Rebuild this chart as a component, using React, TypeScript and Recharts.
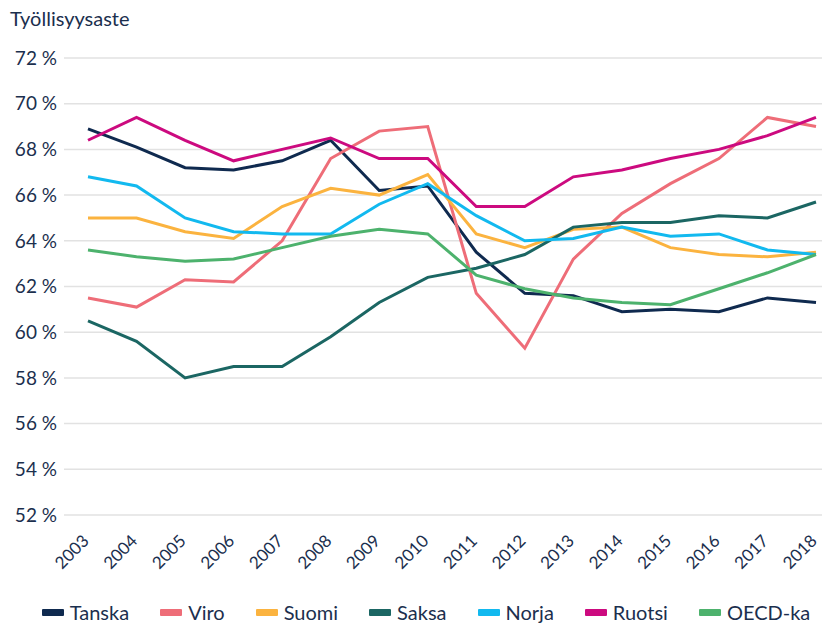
import React from "react";
import { LineChart, Line, XAxis, YAxis, CartesianGrid, Legend } from "recharts";

const years = ["2003","2004","2005","2006","2007","2008","2009","2010","2011","2012","2013","2014","2015","2016","2017","2018"];
const tanska = [68.9,68.1,67.2,67.1,67.5,68.4,66.2,66.4,63.5,61.7,61.6,60.9,61.0,60.9,61.5,61.3];
const viro = [61.5,61.1,62.3,62.2,64.0,67.6,68.8,69.0,61.7,59.3,63.2,65.2,66.5,67.6,69.4,69.0];
const suomi = [65.0,65.0,64.4,64.1,65.5,66.3,66.0,66.9,64.3,63.7,64.5,64.6,63.7,63.4,63.3,63.5];
const saksa = [60.5,59.6,58.0,58.5,58.5,59.8,61.3,62.4,62.8,63.4,64.6,64.8,64.8,65.1,65.0,65.7];
const norja = [66.8,66.4,65.0,64.4,64.3,64.3,65.6,66.5,65.1,64.0,64.1,64.6,64.2,64.3,63.6,63.4];
const ruotsi = [68.4,69.4,68.4,67.5,68.0,68.5,67.6,67.6,65.5,65.5,66.8,67.1,67.6,68.0,68.6,69.4];
const oecd = [63.6,63.3,63.1,63.2,63.7,64.2,64.5,64.3,62.5,61.9,61.5,61.3,61.2,61.9,62.6,63.4];
const yTicks = [52,54,56,58,60,62,64,66,68,70,72];
const title = "Työllisyysaste";

const series = [
  { key: "Tanska", values: tanska, color: "#0f2a4f" },
  { key: "Viro", values: viro, color: "#ee6d78" },
  { key: "Suomi", values: suomi, color: "#fbb33f" },
  { key: "Saksa", values: saksa, color: "#1b6663" },
  { key: "Norja", values: norja, color: "#12b9ef" },
  { key: "Ruotsi", values: ruotsi, color: "#cc0a7f" },
  { key: "OECD-ka", values: oecd, color: "#4db26d" },
];

const data = years.map((y, i) => {
  const row: any = { year: y };
  series.forEach((s) => { row[s.key] = s.values[i]; });
  return row;
});

const FONT = "Lato, 'Open Sans', sans-serif";
const TEXT = "#1b2f4e";

const LegendContent = () => (
  <div style={{ display: "flex", justifyContent: "center", alignItems: "center", height: 30, paddingLeft: 14, gap: 31, fontFamily: FONT, fontSize: 20, color: TEXT, transform: "translateY(2px)" }}>
    {series.map((s) => (
      <div key={s.key} style={{ display: "flex", alignItems: "center" }}>
        <svg width={22} height={7} style={{ marginRight: 6 }}>
          <rect x={0} y={0} width={22} height={7} rx={1} fill={s.color} />
        </svg>
        <span>{s.key}</span>
      </div>
    ))}
  </div>
);

const XTick = (props: any) => {
  const { x, y, payload } = props;
  const ax = x + 2;
  const ay = y + 27;
  return (
    <text x={ax} y={ay} textAnchor="end" transform={`rotate(-45, ${ax}, ${ay})`} fill={TEXT} fontSize={17} fontFamily={FONT}>
      {payload.value}
    </text>
  );
};

export default function App() {
  return (
    <div style={{ position: "relative", width: 822, height: 617 }}>
      <div style={{ position: "absolute", left: 2, top: 0, fontFamily: FONT, fontSize: 20, color: TEXT, lineHeight: "20px" }}>{title}</div>
      <LineChart width={822} height={617} data={data} margin={{ top: 50, right: 0, bottom: 0, left: 0 }}>
        <CartesianGrid vertical={false} stroke="#e2e2e2" strokeWidth={1.5} />
        <XAxis
          dataKey="year"
          axisLine={false}
          tickLine={false}
          tickSize={0}
          tickMargin={0}
          interval={0}
          height={80}
          padding={{ left: 24, right: 14 }}
          tick={<XTick />}
        />
        <YAxis
          domain={[52, 72]}
          ticks={yTicks}
          width={56}
          axisLine={false}
          tickLine={false}
          tickSize={0}
          tickMargin={7}
          tickFormatter={(v) => `${v} %`}
          tick={{ fill: TEXT, fontSize: 19, fontFamily: FONT }}
        />
        <Legend verticalAlign="bottom" content={<LegendContent />} />
        {series.map((s) => (
          <Line key={s.key} type="linear" dataKey={s.key} stroke={s.color} strokeWidth={3} dot={false} isAnimationActive={false} />
        ))}
      </LineChart>
    </div>
  );
}
